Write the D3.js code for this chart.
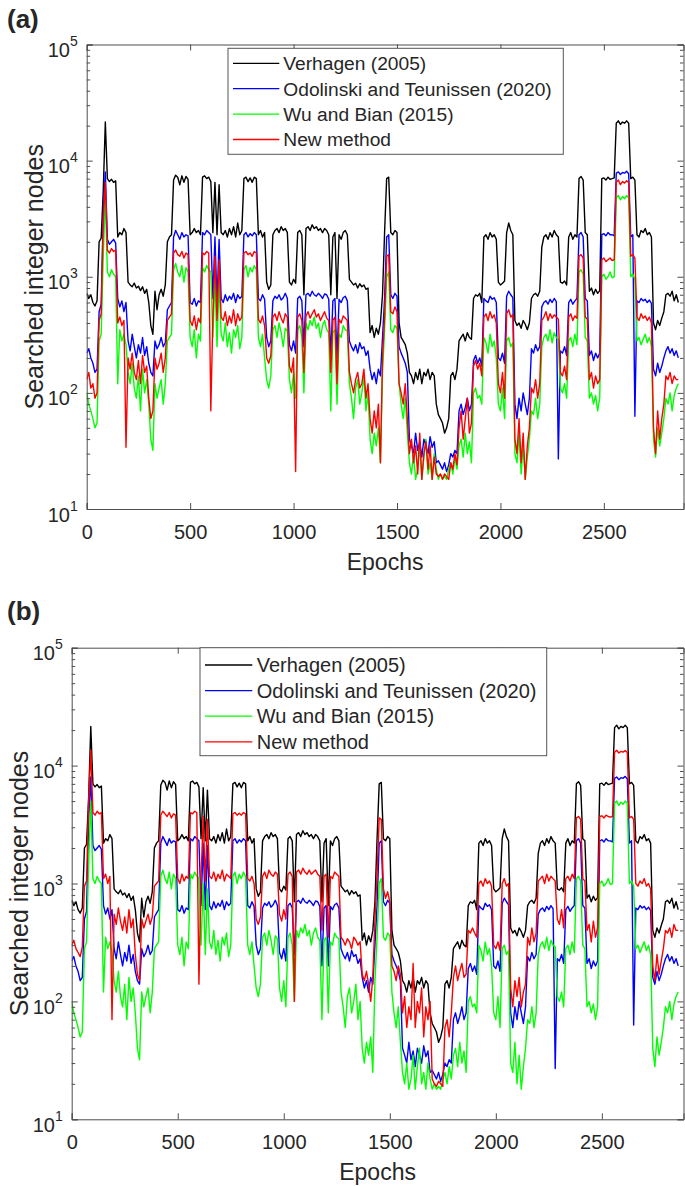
<!DOCTYPE html>
<html><head><meta charset="utf-8">
<script src="https://cdn.jsdelivr.net/npm/d3@7"></script>
<style>
body{margin:0;background:#fff}
svg{display:block}
text{font-family:Arial,"Liberation Sans",sans-serif;fill:#262626}
</style>
</head><body>
<svg id="c" width="685" height="1186"></svg>
<script>
const epochs = d3.range(0, 2861, 10);

const verhagen = [
720,650,700,600,560,620,2000,2150,5500,21500,
7000,6600,6900,6500,6700,2200,2400,2300,2600,2400,
900,850,820,880,800,830,760,820,720,780,
600,380,320,750,520,700,780,680,850,2000,
2200,2300,6800,7500,7200,6200,7400,6500,7300,6900,
2300,2400,2600,2400,2500,2300,7200,7400,7000,7200,
6600,2400,6500,2300,6200,2400,2300,2500,2200,2600,
2300,2700,2200,2900,2300,2500,7000,7200,6600,7100,
6500,7200,7000,2300,2500,2200,2400,900,780,850,
2300,2500,2600,2400,2700,2500,2600,2400,900,850,
950,880,2400,2500,2300,700,2600,2700,2500,2800,
2600,2700,2500,2600,2400,2600,2500,2300,700,2200,
2400,650,2300,2100,2400,2500,2300,950,900,850,
880,800,870,820,850,780,800,330,380,300,
360,320,400,700,2400,7000,7200,2400,2300,2500,
2400,400,300,280,260,220,150,140,120,150,
130,160,120,150,140,160,130,150,140,80,
65,60,55,45,50,60,140,150,130,160,
280,300,320,280,330,300,290,650,700,680,
720,600,2200,2300,2100,2400,2200,2300,2100,900,
850,880,920,2400,2900,2500,2300,420,380,400,
360,420,390,350,400,650,700,720,680,750,
1800,2200,2300,2100,2400,2200,2500,2300,2200,900,
880,920,850,2200,2400,2100,2300,2200,7000,7300,
6800,2400,2300,750,800,700,780,720,760,7000,
7100,6800,7200,6900,7000,7100,21000,22000,20500,21500,
21000,22000,21000,7000,7200,6800,2300,2200,2500,2400,
2600,2300,2400,2200,400,350,420,380,440,500,
700,720,680,750,620,700,600
];

const odolinski = [
220,240,200,180,150,160,500,580,3500,8000,
2100,1900,2000,2100,1950,650,550,620,500,600,
280,230,320,250,200,260,220,300,210,250,
180,150,140,280,240,260,300,250,270,520,
560,600,2200,2500,2300,2100,2400,2200,2300,2250,
600,580,650,560,620,600,2400,2300,2500,2400,
2300,650,2200,600,2100,650,600,700,620,680,
640,720,600,700,650,680,2300,2400,2200,2350,
2250,2400,2300,650,620,700,640,300,250,280,
620,680,650,700,630,660,720,650,260,230,
280,220,650,680,620,250,700,720,680,750,
700,680,720,690,650,710,700,640,200,620,
650,200,640,600,660,680,620,280,250,230,
260,220,270,240,250,210,230,160,130,150,
120,160,140,300,650,2200,2300,700,650,720,
680,250,220,200,180,150,40,35,30,45,
32,38,28,40,35,30,42,34,38,25,
26,24,22,25,21,24,30,28,32,30,
70,80,65,75,90,70,80,190,210,180,
200,170,650,620,600,680,640,660,600,200,
190,220,180,680,750,700,660,80,60,90,
70,100,80,65,90,240,220,260,230,250,
550,600,620,580,640,600,650,610,27,230,
220,250,210,600,640,580,620,650,2300,2400,
2200,650,620,210,230,190,220,200,220,2300,
2350,2250,2400,2300,2300,2250,7800,8000,7600,7900,
7800,8100,7700,2200,2300,63,620,600,650,620,
640,600,630,590,160,140,180,150,170,200,
230,250,220,240,210,230,200
];

const wuBian = [
100,80,70,60,50,55,280,320,1500,5000,
1100,1000,1150,1050,1000,120,350,280,320,260,
150,120,180,110,90,140,70,160,100,130,
80,40,32,120,90,110,130,80,120,280,
300,320,1150,1300,1100,1000,1250,900,1200,1100,
300,250,350,200,320,280,1200,1100,1250,1150,
1100,300,1000,250,900,320,280,400,250,330,
220,350,300,380,240,300,1150,1250,1000,1200,
1100,1250,1150,300,250,320,200,130,110,140,
350,380,300,400,330,250,360,340,130,100,
150,90,350,380,300,100,400,350,420,380,
450,360,400,300,380,420,350,330,70,330,
350,80,320,300,380,350,340,120,90,60,
110,130,80,100,140,70,100,40,30,45,
35,50,25,150,350,1000,1100,350,330,380,
360,120,80,60,90,45,25,20,30,18,
22,35,18,28,40,20,25,18,30,22,
18,20,18,19,18,22,25,20,28,22,
35,40,28,45,30,38,25,100,110,90,
95,80,300,270,220,320,250,280,200,80,
70,110,60,280,300,250,270,30,25,45,
20,35,18,28,40,70,65,90,60,80,
250,300,320,280,350,270,330,300,290,110,
100,120,90,280,300,250,320,260,1100,1150,
1050,300,280,90,100,80,95,70,90,1000,
1050,950,1000,1100,980,1000,4800,5000,4600,4900,
4700,5000,4800,1000,1050,950,280,300,260,290,
320,270,300,250,40,28,50,35,45,60,
90,80,100,70,95,110,120
];

const newMethodA = [
130,150,110,120,90,100,420,480,3000,6500,
1700,1600,1750,1650,1700,400,450,380,420,34,
200,160,220,150,130,190,120,210,150,170,
90,60,70,200,160,180,220,150,200,420,
450,480,1600,1700,1550,1500,1650,1450,1600,1550,
420,380,460,350,440,400,1600,1550,1650,1600,
70,450,1500,420,1400,450,420,500,380,460,
400,520,380,480,420,450,1600,1650,1550,1600,
1500,1650,1600,430,400,460,380,200,180,210,
450,480,420,500,440,400,480,450,170,150,
200,21,450,480,420,150,460,500,440,480,
520,450,480,420,460,500,440,420,150,420,
450,120,430,400,460,440,420,150,120,100,
130,150,110,120,160,90,120,60,45,70,
50,80,25,200,450,1500,1550,500,480,550,
500,120,100,80,120,60,30,40,25,35,
20,45,18,30,38,22,35,18,28,20,
19,20,18,20,19,18,25,22,30,24,
50,70,40,60,90,45,55,170,190,160,
180,140,450,480,420,500,440,470,400,120,
100,150,90,480,520,450,470,40,30,60,
25,45,18,35,50,110,100,130,90,120,
420,450,500,420,480,440,470,450,430,150,
140,170,130,450,480,420,460,440,1500,1550,
1450,450,430,130,150,110,140,120,130,1400,
1450,1350,1400,1450,1380,1400,6500,6800,6200,6600,
6400,6700,6500,1500,1550,1450,450,420,480,440,
460,420,450,400,50,30,70,40,60,80,
140,130,150,120,140,130,130
];

const newMethodB = [
300,330,280,260,240,290,950,1050,5000,13500,
4000,3800,4100,3900,4000,1100,1200,1000,1150,70,
550,450,620,480,400,520,380,600,420,500,
250,170,150,500,420,480,550,450,520,950,
1000,1050,3800,4100,3900,3700,4000,3600,3900,3800,
1100,1000,1200,1050,1150,1100,4000,3900,4100,4000,
140,1100,3700,1050,3500,1150,1100,1250,1050,1200,
1100,1300,1050,1200,1150,1100,3900,4000,3800,3950,
3800,4000,3900,1100,1050,1150,1000,500,450,520,
1150,1250,1100,1300,1200,1150,1250,1200,550,480,
600,500,1200,1250,1150,100,1250,1300,1200,1350,
1250,1200,1300,1200,1250,1300,1200,1150,400,1150,
1200,350,1150,1100,1250,1200,1150,350,330,300,
340,320,280,350,330,300,320,170,150,180,
140,100,160,500,1200,3600,3500,900,750,850,
700,200,180,150,200,170,80,110,60,90,
70,210,60,100,80,130,50,90,70,100,
22,20,19,21,20,19,60,70,50,80,
160,200,150,180,210,160,170,400,380,420,
380,350,1000,1050,950,1100,1000,1050,950,300,
280,320,270,1000,1100,950,1000,130,90,150,
110,160,90,120,140,350,300,420,320,380,
1050,1100,1150,1000,1200,1050,1150,1100,1050,500,
450,600,420,1100,1150,1050,1200,1100,3600,3700,
3500,1100,1050,400,450,320,480,350,420,3700,
3750,3600,3800,3700,3650,3700,13000,13500,12800,13200,
13000,13400,12900,3600,3700,3500,1000,950,1050,1000,
1100,950,1000,900,200,150,250,170,220,280,
400,380,420,350,450,400,400
];

const xTickValues = [0, 500, 1000, 1500, 2000, 2500];
const yDecadeExponents = [1, 2, 3, 4, 5];
const legendNames = ["Verhagen (2005)", "Odolinski and Teunissen (2020)", "Wu and Bian (2015)", "New method"];
const seriesColors = ["#000000", "#0000ff", "#00ff00", "#ff0000"];

// ---------------- DRAWING ----------------
const svg = d3.select("#c");
const axisColor = "#4d4d4d";

function drawPanel(cfg, idx) {
  const x = d3.scaleLinear().domain([0, 2885]).range([cfg.left, cfg.right]);
  const y = d3.scaleLog().domain([10, 100000]).range([cfg.bottom, cfg.top]);
  const g = svg.append("g");
  const clipId = "clip" + idx;
  svg.append("clipPath").attr("id", clipId).append("rect")
    .attr("x", cfg.left).attr("y", cfg.top)
    .attr("width", cfg.right - cfg.left).attr("height", cfg.bottom - cfg.top);

  const line = d3.line().x((d, i) => x(epochs[i])).y(d => y(d));
  const lines = g.append("g").attr("clip-path", `url(#${clipId})`);
  cfg.series.forEach((s, k) => {
    lines.append("path").datum(s.slice(0, epochs.length))
      .attr("d", line).attr("fill", "none")
      .attr("stroke", seriesColors[k]).attr("stroke-width", 1.4)
      .attr("stroke-linejoin", "round");
  });

  // Axes (MATLAB style box, ticks inside)
  const bottomAx = d3.axisBottom(x).tickValues(xTickValues).tickSize(-6).tickPadding(10).tickFormat(d3.format("d"));
  const topAx = d3.axisTop(x).tickValues(xTickValues).tickSize(-6).tickFormat("");
  const minorVals = [];
  yDecadeExponents.forEach(e => { if (e < 5) for (let m = 2; m <= 9; m++) minorVals.push(m * Math.pow(10, e)); });
  const majorVals = yDecadeExponents.map(e => Math.pow(10, e));

  const gb = g.append("g").attr("transform", `translate(0,${cfg.bottom})`).call(bottomAx);
  const gt = g.append("g").attr("transform", `translate(0,${cfg.top})`).call(topAx);
  [gb, gt].forEach(a => { a.select(".domain").attr("stroke", axisColor); a.selectAll(".tick line").attr("stroke", axisColor); });
  gb.selectAll(".tick text").attr("font-size", 20).attr("fill", "#262626")
    .attr("font-family", "Arial, 'Liberation Sans', sans-serif").attr("dy", null).attr("y", 30);

  const gl = g.append("g").attr("transform", `translate(${cfg.left},0)`);
  const gr = g.append("g").attr("transform", `translate(${cfg.right},0)`);
  gl.call(d3.axisLeft(y).tickValues(majorVals).tickSize(-6).tickFormat(""));
  gl.append("g").call(d3.axisLeft(y).tickValues(minorVals).tickSize(-3.5).tickFormat("")).select(".domain").remove();
  gr.call(d3.axisRight(y).tickValues(majorVals).tickSize(-6).tickFormat(""));
  gr.append("g").call(d3.axisRight(y).tickValues(minorVals).tickSize(-3.5).tickFormat("")).select(".domain").remove();
  [gl, gr].forEach(a => { a.selectAll(".domain").attr("stroke", axisColor); a.selectAll("line").attr("stroke", axisColor); });

  // y tick labels 10^n
  yDecadeExponents.forEach(e => {
    const t = g.append("text").attr("x", cfg.left - 9).attr("y", y(Math.pow(10, e)) + 12.5)
      .attr("text-anchor", "end");
    t.append("tspan").attr("font-size", 20).text("10");
    t.append("tspan").attr("font-size", 14).attr("dy", -11).text(String(e));
  });

  // axis titles
  g.append("text").attr("x", (cfg.left + cfg.right) / 2).attr("y", cfg.bottom + 61)
    .attr("text-anchor", "middle").attr("font-size", 23).text("Epochs");
  g.append("text").attr("transform", `translate(${cfg.ylabX},${(cfg.top + cfg.bottom) / 2}) rotate(-90)`)
    .attr("text-anchor", "middle").attr("font-size", 25).text("Searched integer nodes");
  g.append("text").attr("x", 7).attr("y", cfg.tagY).attr("font-size", 26)
    .attr("font-weight", "bold").attr("fill", "#000").text(cfg.tag);

  // legend
  const L = cfg.legend;
  g.append("rect").attr("x", L.x).attr("y", L.y).attr("width", L.w).attr("height", L.h)
    .attr("fill", "#fff").attr("stroke", "#555").attr("stroke-width", 1);
  legendNames.forEach((name, k) => {
    const yy = L.row0 + k * L.dy;
    g.append("line").attr("x1", L.lx1).attr("x2", L.lx2).attr("y1", yy).attr("y2", yy)
      .attr("stroke", seriesColors[k]).attr("stroke-width", 1.3);
    g.append("text").attr("x", L.tx).attr("y", yy).attr("dy", "0.36em")
      .attr("font-size", L.fs).text(name);
  });
}

drawPanel({
  left: 86.7, right: 683.5, top: 44.5, bottom: 509,
  ylabX: 42.5, tag: "(a)", tagY: 28,
  series: [verhagen, odolinski, wuBian, newMethodA],
  legend: { x: 228, y: 48.3, w: 335.3, h: 106, row0: 63.3, dy: 25.4, lx1: 233, lx2: 279.3, tx: 283.3, fs: 19.2 }
}, 0);

drawPanel({
  left: 71.7, right: 683.5, top: 647.7, bottom: 1119.3,
  ylabX: 27.5, tag: "(b)", tagY: 620,
  series: [verhagen, odolinski, wuBian, newMethodB],
  legend: { x: 200, y: 647.7, w: 346.7, h: 108, row0: 665, dy: 25.6, lx1: 205, lx2: 252.3, tx: 256.7, fs: 20 }
}, 1);
</script>
</body></html>
